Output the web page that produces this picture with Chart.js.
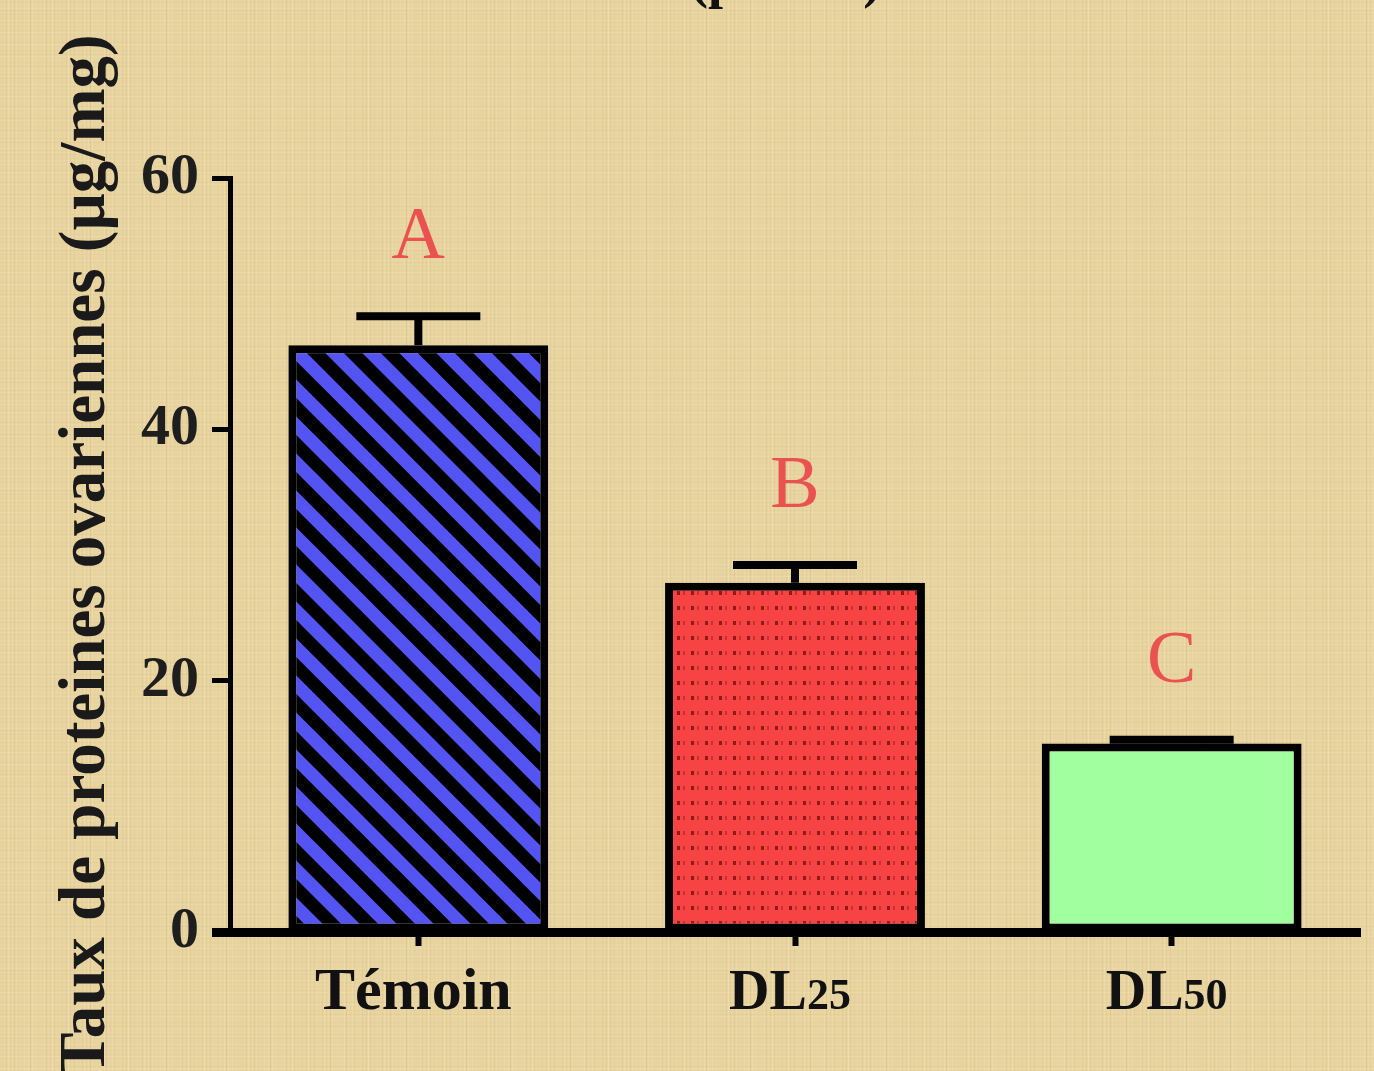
<!DOCTYPE html>
<html>
<head>
<meta charset="utf-8">
<script src="https://cdn.jsdelivr.net/npm/chart.js@4.4.1/dist/chart.umd.min.js"></script>
<style>
  html, body { margin: 0; padding: 0; background: #e7d39e; }
  canvas { display: block; }
</style>
</head>
<body>
<canvas id="myChart" width="1374" height="1071"></canvas>
<script>
const categories = ['Témoin', 'DL25', 'DL50'];
const means = [46.7, 27.8, 15.0];
const sems = [2.3, 1.4, 0.3];
const letters = ['A', 'B', 'C'];
const yTicks = [0, 20, 40, 60];
const yTitle = 'Taux de proteines ovariennes (µg/mg)';
const topNote = '(p<0.05)';

const serif = 'Liberation Serif';

// paper-like background (deterministic texture)
function paperPattern(ctx) {
    const n = 240;
    const c = document.createElement('canvas');
    c.width = n; c.height = n;
    const g = c.getContext('2d');
    g.fillStyle = '#e8d4a0';
    g.fillRect(0, 0, n, n);
    for (let i = 0; i < n; i += 2) {
        const a = Math.abs(Math.sin(i * 1.731) * Math.cos(i * 0.417));
        g.fillStyle = i % 4 == 0 ? `rgba(250,238,200,${0.3 * a})` : `rgba(175,145,80,${0.16 * a})`;
        g.fillRect(i, 0, 1, n);
        const b = Math.abs(Math.sin(i * 2.113) * Math.cos(i * 0.291));
        g.fillStyle = i % 4 == 0 ? `rgba(250,238,200,${0.2 * b})` : `rgba(175,145,80,${0.1 * b})`;
        g.fillRect(0, i, n, 1);
    }
    return ctx.createPattern(c, 'repeat');
}

function stripePattern(ctx) {
    const s = 37;
    const c = document.createElement('canvas');
    c.width = s; c.height = s;
    const g = c.getContext('2d');
    g.fillStyle = '#5454f2';
    g.fillRect(0, 0, s, s);
    g.strokeStyle = '#000';
    g.lineWidth = 13;
    for (const o of [-s, 0, s]) {
        g.beginPath();
        g.moveTo(o - s, -s);
        g.lineTo(o + 2 * s, 2 * s);
        g.stroke();
    }
    return ctx.createPattern(c, 'repeat');
}

function dotPattern(ctx) {
    const w = 14, h = 15;
    const c = document.createElement('canvas');
    c.width = w; c.height = h;
    const g = c.getContext('2d');
    g.fillStyle = '#f74343';
    g.fillRect(0, 0, w, h);
    g.fillStyle = '#8e1a1a';
    g.fillRect(5, 6, 3, 4);
    g.fillStyle = 'rgba(160,30,30,0.5)';
    g.fillRect(11, 6, 2, 4);
    return ctx.createPattern(c, 'repeat');
}

const ctx = document.getElementById('myChart').getContext('2d');
const paper = paperPattern(ctx);

const background = {
    id: 'background',
    beforeDraw(chart) {
        const c = chart.ctx;
        c.save();
        c.fillStyle = paper;
        c.fillRect(0, 0, chart.width, chart.height);
        c.fillStyle = '#111';
        c.font = `bold 54px "${serif}"`;
        c.textAlign = 'left';
        c.textBaseline = 'alphabetic';
        c.fillText(topNote, 690, -3);
        c.restore();
    }
};

const errorBars = {
    id: 'errorBars',
    afterDatasetsDraw(chart) {
        const c = chart.ctx;
        const meta = chart.getDatasetMeta(0);
        const y = chart.scales.y;
        c.save();
        c.strokeStyle = '#000';
        c.lineWidth = 8;
        c.lineCap = 'butt';
        meta.data.forEach((bar, i) => {
            const capY = y.getPixelForValue(means[i] + sems[i]);
            c.beginPath();
            c.moveTo(bar.x, bar.y);
            c.lineTo(bar.x, capY);
            c.moveTo(bar.x - 62, capY);
            c.lineTo(bar.x + 62, capY);
            c.stroke();
        });
        c.restore();
    }
};

const annotations = {
    id: 'annotations',
    afterDraw(chart) {
        const c = chart.ctx;
        const x = chart.scales.x;
        const y = chart.scales.y;
        c.save();
        c.textBaseline = 'alphabetic';
        // significance letters
        c.fillStyle = '#ea5252';
        c.font = `74px "${serif}"`;
        c.textAlign = 'center';
        letters.forEach((l, i) => {
            const capY = y.getPixelForValue(means[i] + sems[i]);
            c.fillText(l, x.getPixelForValue(i), capY - 58);
        });
        // category labels, with the dose number set smaller
        c.fillStyle = '#111';
        categories.forEach((lab, i) => {
            const cx = x.getPixelForValue(i) - 5;
            const m = lab.match(/^(\D+)(\d+)$/);
            if (!m) {
                c.font = `bold 60px "${serif}"`;
                c.textAlign = 'center';
                c.fillText(lab, cx, 1009);
                return;
            }
            c.font = `bold 56px "${serif}"`;
            const w1 = c.measureText(m[1]).width;
            c.font = `bold 44px "${serif}"`;
            const w2 = c.measureText(m[2]).width;
            const x0 = cx - (w1 + w2) / 2;
            c.textAlign = 'left';
            c.font = `bold 56px "${serif}"`;
            c.fillText(m[1], x0, 1009);
            c.font = `bold 44px "${serif}"`;
            c.fillText(m[2], x0 + w1, 1009);
        });
        c.restore();
    }
};

const myChart = new Chart(ctx, {
    type: 'bar',
    data: {
        labels: categories,
        datasets: [{
            data: means,
            backgroundColor: [stripePattern(ctx), dotPattern(ctx), '#a2ff9f'],
            borderColor: '#000',
            borderWidth: 8,
            borderSkipped: false,
            categoryPercentage: 1,
            barPercentage: 0.69
        }]
    },
    options: {
        responsive: false,
        animation: false,
        layout: { padding: { top: 178, right: 14, left: 0, bottom: 0 } },
        plugins: {
            legend: { display: false },
            tooltip: { enabled: false }
        },
        scales: {
            x: {
                grid: {
                    drawOnChartArea: false,
                    offset: false,
                    tickLength: 14,
                    tickWidth: 6,
                    tickColor: '#000'
                },
                border: { color: '#000', width: 9, z: 1 },
                ticks: { display: false },
                afterFit: (s) => { s.height = 139; }
            },
            y: {
                min: yTicks[0],
                max: yTicks[yTicks.length - 1],
                ticks: {
                    stepSize: yTicks[1] - yTicks[0],
                    padding: 13,
                    color: '#1e1e1e',
                    font: { family: serif, size: 58, weight: 'bold' }
                },
                grid: {
                    drawOnChartArea: false,
                    tickLength: 18,
                    tickWidth: (c) => (c.tick && c.tick.value === 0 ? 9 : 5),
                    tickColor: '#000'
                },
                border: { color: '#000', width: 5 },
                title: {
                    display: true,
                    text: yTitle,
                    color: '#1a1a1a',
                    font: { family: serif, size: 65, weight: 'bold' },
                    padding: { top: 48, bottom: 0 }
                },
                afterFit: (s) => { s.width = 230; }
            }
        }
    },
    plugins: [background, errorBars, annotations]
});
</script>
</body>
</html>
